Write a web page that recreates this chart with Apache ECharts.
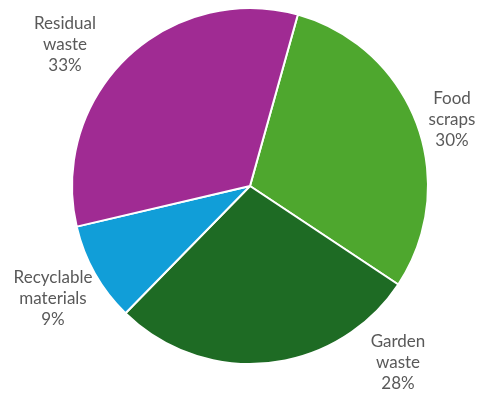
<!DOCTYPE html>
<html>
<head>
<meta charset="utf-8">
<script src="https://cdn.jsdelivr.net/npm/echarts@6/dist/echarts.min.js"></script>
<style>
html,body{margin:0;padding:0;background:#fff;}
#main{width:479px;height:396px;}
</style>
</head>
<body>
<div id="main"></div>
<script>
// 类别和数值
var categories = ["Food\nscraps", "Garden\nwaste", "Recyclable\nmaterials", "Residual\nwaste"];
var values = [30, 28, 9, 33];
var colors = ["#4ea72e", "#1e6b24", "#119ed8", "#a02b93"];
// 标签中心位置
var labelPos = [[452, 120], [398, 363], [53, 299], [65, 45]];

var data = [];
for (var i = 0; i < categories.length; i++) {
	data.push({
		name: categories[i],
		value: values[i],
		itemStyle: {color: colors[i]}
	});
}

var myChart = echarts.init(document.getElementById('main'));
var option = {
	animation: false,
	series: [{
		type: 'pie',
		center: [250, 186],
		radius: 178,
		startAngle: 74.4,
		clockwise: true,
		data: data,
		itemStyle: {borderColor: '#fff', borderWidth: 2},
		label: {
			show: true,
			position: 'outside',
			formatter: '{b}\n{d}%',
			color: '#595959',
			fontFamily: 'Lato',
			fontSize: 17,
			lineHeight: 21,
			overflow: 'none',
			textAlign: 'center'
		},
		labelLine: {show: false},
		labelLayout: function(params) {
			var p = labelPos[params.dataIndex];
			return {
				x: p[0],
				y: p[1],
				align: 'center',
				verticalAlign: 'middle',
				hideOverlap: false
			};
		}
	}]
};
myChart.setOption(option);
</script>
</body>
</html>
